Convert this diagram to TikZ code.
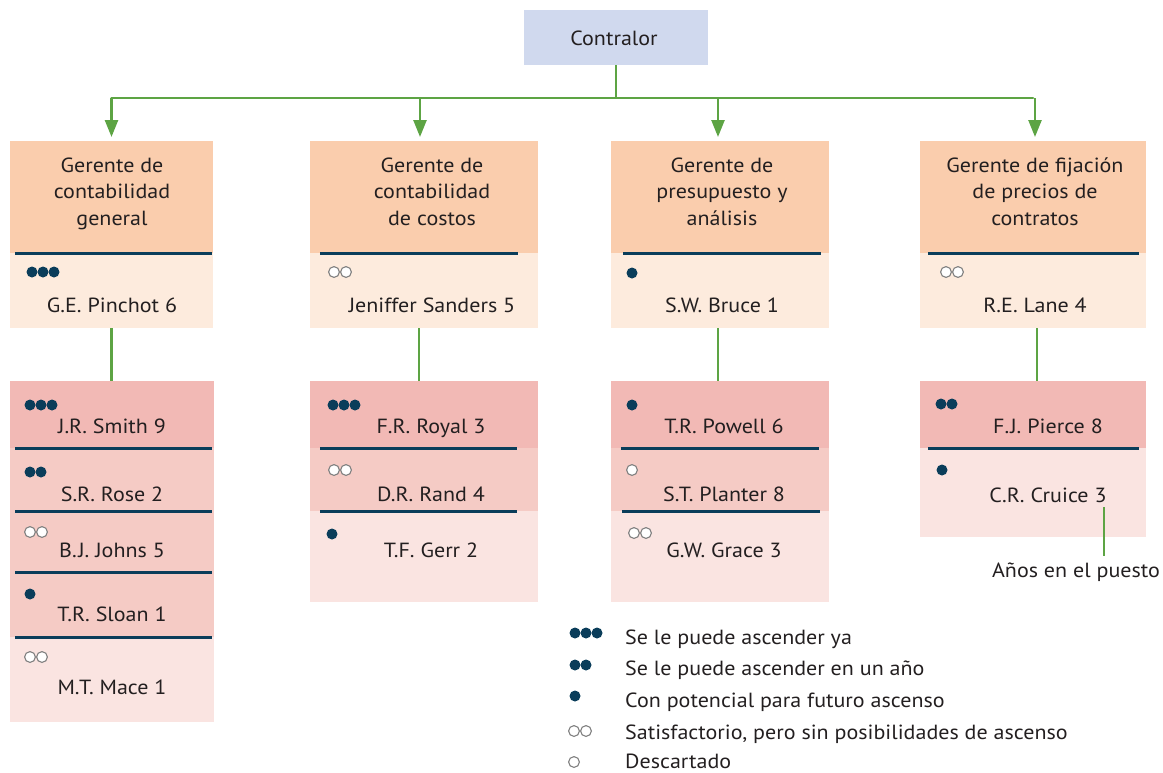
\documentclass[tikz,border=0pt]{standalone}
\usepackage{fontspec}
\setmainfont{PT Sans}[FakeStretch=1.075]
\usetikzlibrary{arrows.meta}
\definecolor{ctrlc}{HTML}{D0D9EE}
\definecolor{hdr}{HTML}{FACDAD}
\definecolor{hlt}{HTML}{FDEBDD}
\definecolor{rdk}{HTML}{F2B9B5}
\definecolor{rmd}{HTML}{F5CBC5}
\definecolor{rlt}{HTML}{FAE4E1}
\definecolor{navy}{HTML}{0A3D5A}
\definecolor{grn}{HTML}{5DA444}
\definecolor{txtc}{HTML}{231F20}
\definecolor{ocg}{HTML}{808080}
\newcommand\mkdotsF[3]{\foreach \i in {1,...,#3} \fill[navy] ({#1+(\i-1)*11},#2) circle (5.5pt);}
\newcommand\mkdotsO[3]{\foreach \i in {1,...,#3} \filldraw[fill=white,draw=ocg,line width=1.1pt] ({#1+(\i-1)*12},#2) circle (5.4pt);}
\begin{document}
\begin{tikzpicture}[x=1pt,y=-1pt,
  box/.style={inner sep=0pt, outer sep=0pt, anchor=north west, draw=none},
  txt/.style={font=\fontsize{20.5}{26.5}\selectfont, text=txtc, align=center, inner sep=0pt, anchor=base},
  sepline/.style={line width=3pt, draw=navy},
  link/.style={line width=2.5pt, draw=grn},
  arr/.style={link, -{Triangle[length=17pt,width=13pt]}, shorten >=4pt}]
\useasboundingbox (0,0) rectangle (1163,772);
% Contralor
\node[box, fill=ctrlc, minimum width=184pt, minimum height=55pt] (ctrl) at (524,10) {};
\node[txt] (ctrlt) at (614,45) {Contralor};
% headers
\node[box, fill=hdr, minimum width=203pt, minimum height=112pt] (h1) at (10,141) {};
\node[box, fill=hdr, minimum width=228pt, minimum height=112pt] (h2) at (310,141) {};
\node[box, fill=hdr, minimum width=218pt, minimum height=112pt] (h3) at (611,141) {};
\node[box, fill=hdr, minimum width=226pt, minimum height=112pt] (h4) at (920,141) {};
\node[box, fill=hlt, minimum width=203pt, minimum height=75pt] (p1) at (10,253) {};
\node[box, fill=hlt, minimum width=228pt, minimum height=75pt] (p2) at (310,253) {};
\node[box, fill=hlt, minimum width=218pt, minimum height=75pt] (p3) at (611,253) {};
\node[box, fill=hlt, minimum width=226pt, minimum height=75pt] (p4) at (920,253) {};
\draw[sepline] (15,253) -- (212,253);
\draw[sepline] (320,253) -- (518,253);
\draw[sepline] (623,253) -- (821,253);
\draw[sepline] (928,253) -- (1139,253);
\node[txt] (h1t) at (112,225) {Gerente de\\contabilidad\\general};
\node[txt] (h2t) at (432,225) {Gerente de\\contabilidad\\de costos};
\node[txt] (h3t) at (722,225) {Gerente de\\presupuesto y\\análisis};
\node[txt] (h4t) at (1035,225) {Gerente de fijación\\de precios de\\contratos};
\node[txt] (p1t) at (112,312.5) {G.E. Pinchot 6};
\node[txt] (p2t) at (432,312.5) {Jeniffer Sanders 5};
\node[txt] (p3t) at (722,312.5) {S.W. Bruce 1};
\node[txt] (p4t) at (1035,312.5) {R.E. Lane 4};
\mkdotsF{32}{272}{3}
\mkdotsO{334}{272}{2}
\mkdotsF{632}{273}{1}
\mkdotsO{946}{272}{2}
% column 1 lower
\node[box, fill=rdk, minimum width=204pt, minimum height=67pt] (a1) at (10,381) {};
\node[box, fill=rmd, minimum width=204pt, minimum height=63pt] (a2) at (10,448) {};
\node[box, fill=rmd, minimum width=204pt, minimum height=61pt] (a3) at (10,511) {};
\node[box, fill=rmd, minimum width=204pt, minimum height=65pt] (a4) at (10,572) {};
\node[box, fill=rlt, minimum width=204pt, minimum height=85pt] (a5) at (10,637) {};
\draw[sepline] (15,448) -- (212,448);
\draw[sepline] (15,511) -- (212,511);
\draw[sepline] (15,572) -- (212,572);
\draw[sepline] (15,637) -- (212,637);
\node[txt] (a1t) at (112,433) {J.R. Smith 9};
\node[txt] (a2t) at (112,501.5) {S.R. Rose 2};
\node[txt] (a3t) at (112,557.5) {B.\kern1.5pt J. Johns 5};
\node[txt] (a4t) at (112,621.5) {T.R. Sloan 1};
\node[txt] (a5t) at (112,694) {M.T. Mace 1};
\mkdotsF{30}{405}{3}
\mkdotsF{30}{472}{2}
\mkdotsO{30}{532}{2}
\mkdotsF{30}{594}{1}
\mkdotsO{30}{657}{2}
% column 2 lower
\node[box, fill=rdk, minimum width=228pt, minimum height=67pt] (b1) at (310,381) {};
\node[box, fill=rmd, minimum width=228pt, minimum height=63pt] (b2) at (310,448) {};
\node[box, fill=rlt, minimum width=228pt, minimum height=91pt] (b3) at (310,511) {};
\draw[sepline] (320,448) -- (517,448);
\draw[sepline] (320,511) -- (517,511);
\node[txt] (b1t) at (431,433) {F.R. Royal 3};
\node[txt] (b2t) at (431,501.5) {D.R. Rand 4};
\node[txt] (b3t) at (431,557.5) {T.F. Gerr 2};
\mkdotsF{333}{405}{3}
\mkdotsO{334}{470}{2}
\mkdotsF{332}{534}{1}
% column 3 lower
\node[box, fill=rdk, minimum width=218pt, minimum height=67pt] (c1) at (611,381) {};
\node[box, fill=rmd, minimum width=218pt, minimum height=63pt] (c2) at (611,448) {};
\node[box, fill=rlt, minimum width=218pt, minimum height=91pt] (c3) at (611,511) {};
\draw[sepline] (621,448) -- (819,448);
\draw[sepline] (622,511) -- (820,511);
\node[txt] (c1t) at (724,433) {T.R. Powell 6};
\node[txt] (c2t) at (724,501.5) {S.T. Planter 8};
\node[txt] (c3t) at (724,557.5) {G.W. Grace 3};
\mkdotsF{632}{405}{1}
\mkdotsO{632}{470}{1}
\mkdotsO{634}{533}{2}
% column 4 lower
\node[box, fill=rdk, minimum width=226pt, minimum height=67pt] (d1) at (920,381) {};
\node[box, fill=rlt, minimum width=226pt, minimum height=89pt] (d2) at (920,448) {};
\draw[sepline] (928,448) -- (1139,448);
\node[txt] (d1t) at (1048,433) {F.\kern1pt J. Pierce 8};
\node[txt] (d2t) at (1048,502) {C.R. Cruice 3};
\mkdotsF{941}{404}{2}
\mkdotsF{942}{470}{1}
% connectors
\coordinate (bus) at (0,98);
\draw[link] (ctrl.south) -- (ctrl.south |- bus);
\draw[link, line cap=round] (h1.north |- bus) -- (h4.north |- bus);
\draw[arr] (h1.north |- bus) -- (h1.north);
\draw[arr] ([xshift=-4pt]h2.north |- bus) -- ([xshift=-4pt]h2.north);
\draw[arr] ([xshift=-2pt]h3.north |- bus) -- ([xshift=-2pt]h3.north);
\draw[arr] ([xshift=2pt]h4.north |- bus) -- ([xshift=2pt]h4.north);
\draw[link] (p1.south) -- (a1.north -| p1.south);
\draw[link] ([xshift=-5pt]p2.south) -- ([xshift=-5pt]p2.south |- b1.north);
\draw[link] ([xshift=-2pt]p3.south) -- ([xshift=-2pt]p3.south |- c1.north);
\draw[link] ([xshift=4pt]p4.south) -- ([xshift=4pt]p4.south |- d1.north);
% annotation
\node[txt] (anos) at (1076,577) {Años en el puesto};
\coordinate (annA) at (1104,507);
\coordinate (annB) at (1104,556);
\draw[link, line width=2.2pt] (annA) -- (annB);
% legend
\mkdotsF{575}{633}{3}
\mkdotsF{575}{665}{2}
\mkdotsF{575}{696}{1}
\mkdotsO{574}{731}{2}
\mkdotsO{574}{762}{1}
\node[txt, anchor=base west] (l1) at (625,644) {Se le puede ascender ya};
\node[txt, anchor=base west] (l2) at (625,675) {Se le puede ascender en un año};
\node[txt, anchor=base west] (l3) at (625,707) {Con potencial para futuro ascenso};
\node[txt, anchor=base west] (l4) at (625,739) {Satisfactorio, pero sin posibilidades de ascenso};
\node[txt, anchor=base west] (l5) at (625,768.5) {Descartado};
\end{tikzpicture}
\end{document}
